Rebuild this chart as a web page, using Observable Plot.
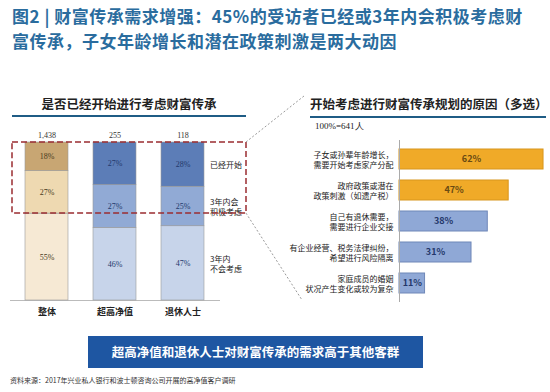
<!DOCTYPE html>
<html><head><meta charset="utf-8">
<script src="https://cdn.jsdelivr.net/npm/d3@7"></script>
<script src="https://cdn.jsdelivr.net/npm/@observablehq/plot@0.6"></script>
<style>
body{margin:0;background:#fff;}
#root{position:relative;width:550px;height:392px;overflow:hidden;font-family:"Noto Sans CJK SC",sans-serif;background:#fff;}
.abs{position:absolute;}
.title{left:12px;font-size:17px;line-height:24px;height:24px;font-weight:bold;color:#2a6c9e;white-space:nowrap;letter-spacing:0.5px;}
.ptitle{top:94px;font-size:12.5px;font-weight:bold;color:#222;text-align:center;white-space:nowrap;}
.uline{height:2px;background:#1f5c85;}
#n{left:315px;top:120px;font-size:9px;font-family:"Liberation Serif",serif;color:#222;}
#banner{left:88px;top:336px;width:335px;height:32px;background:#1e56a2;color:#fff;font-size:12.5px;font-weight:bold;text-align:center;line-height:32px;}
#source{left:10px;top:375px;font-size:7px;color:#333;white-space:nowrap;}
#overlay{left:0;top:0;pointer-events:none;}
</style></head><body>
<div id="root">
  <div class="abs title" style="top:4px;">图2 | 财富传承需求增强：45%的受访者已经或3年内会积极考虑财</div>
  <div class="abs title" style="top:29px;">富传承，子女年龄增长和潜在政策刺激是两大动因</div>
  <div class="abs ptitle" style="left:12px;width:234px;">是否已经开始进行考虑财富传承</div>
  <div class="abs uline" style="left:12px;top:115px;width:234px;"></div>
  <div class="abs ptitle" style="left:310px;width:236px;">开始考虑进行财富传承规划的原因（多选）</div>
  <div class="abs uline" style="left:310px;top:116px;width:236px;"></div>
  <div id="n" class="abs">100%=641人</div>
  <div id="leftChart" class="abs" style="left:0;top:125px;"></div>
  <div id="rightChart" class="abs" style="left:280px;top:135px;"></div>
  <div id="banner" class="abs">超高净值和退休人士对财富传承的需求高于其他客群</div>
  <div id="source" class="abs">资料来源：2017年兴业私人银行和波士顿咨询公司开展的高净值客户调研</div>
</div>
<script>
// ---- data ----
const categories = ["整体", "超高净值", "退休人士"];
const sampleSizes = ["1,438", "255", "118"];
const stages = ["3年内不会考虑", "3年内会积极考虑", "已经开始"]; // bottom -> top
const stageLabels = ["3年内\n不会考虑", "3年内会\n积极考虑", "已经开始"];
const notConsidering = [55, 46, 47];
const considering = [27, 27, 25];
const started = [18, 27, 28];

const reasons = [
  "子女或孙辈年龄增长，\n需要开始考虑家产分配",
  "政府政策或潜在\n政策刺激（如遗产税）",
  "自己有退休需要，\n需要进行企业交接",
  "有企业经营、税务法律纠纷，\n希望进行风险隔离",
  "家庭成员的婚姻\n状况产生变化或较为复杂"
];
const reasonShares = [62, 47, 38, 31, 11];
const topDrivers = 2;

// ---- styles ----
const tanShades = ["#f6e9d4", "#eed9b1", "#c8a673"];
const blueShades = ["#c7d4ea", "#91aad5", "#5c7db7"];
const orange = "#f0aa28", orangeEdge = "#d8961c";
const lightBlue = "#8fa8d6", lightBlueEdge = "#6f87b8";
const font = '"Noto Sans CJK SC", sans-serif';

// ---- left chart ----
const rows = [];
categories.forEach((c, i) => {
  [notConsidering, considering, started].forEach((arr, j) =>
    rows.push({cat: c, stage: stages[j], label: stageLabels[j], value: arr[i], level: j}));
});
const shade = d => (d.cat === categories[0] ? tanShades : blueShades)[d.level];

const left = Plot.plot({
  width: 252, height: 195,
  marginTop: 17, marginBottom: 20, marginLeft: 12, marginRight: 6,
  x: {domain: categories, paddingInner: 0.365, paddingOuter: 0.39, align: 0.243, label: null},
  y: {domain: [0, 100], axis: null},
  color: {type: "identity"},
  style: {fontFamily: font, background: "transparent", overflow: "visible"},
  marks: [
    Plot.ruleY([0], {stroke: "#bbb", insetLeft: -2, insetRight: 26}),
    Plot.barY(rows, {x: "cat", y: "value", fill: shade, stroke: "#9a9a9a", strokeWidth: 0.6}),
    Plot.text(rows, Plot.stackY({x: "cat", y: "value", text: d => d.value + "%",
      fill: d => d.cat === categories[0] ? "#4a3a20" : "#23386a",
      fontFamily: '"Liberation Serif", serif', fontSize: 8})),
    Plot.text(rows.filter(d => d.cat === categories[2]), Plot.stackY({x: "cat", y: "value", text: "label",
      dx: 27, textAnchor: "start", lineHeight: 1.25, fontSize: 8, fill: "#222"})),
    Plot.text(categories, {x: d => d, y: [100, 100, 100], text: (d, i) => sampleSizes[i], dy: -7,
      fontFamily: '"Liberation Serif", serif', fontSize: 8, fill: "#333"}),
    Plot.rect([{y1: 55, y2: 100}], {y1: "y1", y2: "y2", fill: "none", stroke: "#9b2d30",
      strokeWidth: 1.5, strokeDasharray: "6,3"}),
    Plot.axisX({tickSize: 0, tickPadding: 8, fontSize: 9, fontWeight: "bold", label: null, fill: "#222"})
  ]
});
document.getElementById("leftChart").appendChild(left);

// ---- right chart ----
const reasonRows = reasons.map((r, i) => ({reason: r, share: reasonShares[i], rank: i}));
const right = Plot.plot({
  width: 270, height: 171,
  marginTop: 0, marginBottom: 0, marginLeft: 119, marginRight: 0,
  x: {domain: [0, 65], axis: null},
  y: {domain: reasons, padding: 0.37, axis: null},
  color: {type: "identity"},
  style: {fontFamily: font, background: "transparent", overflow: "visible"},
  marks: [
    Plot.barX(reasonRows, {x: "share", y: "reason",
      fill: d => d.rank < topDrivers ? orange : lightBlue,
      stroke: d => d.rank < topDrivers ? orangeEdge : lightBlueEdge, strokeWidth: 1}),
    Plot.ruleX([0], {stroke: "#aaa", insetTop: 5, insetBottom: 4}),
    Plot.text(reasonRows, {x: d => d.share / 2, y: "reason", text: d => d.share + "%",
      fontSize: 9, fontWeight: "bold", fill: d => d.rank < topDrivers ? "#6a4a12" : "#24376a"}),
    Plot.text(reasonRows, {x: 0, y: "reason", text: "reason", dx: -6, textAnchor: "end",
      lineHeight: 1.35, fontSize: 8, fill: "#222"})
  ]
});
document.getElementById("rightChart").appendChild(right);

// ---- connector lines (decoration derived from left chart scales) ----
const leftPos = {left: 0, top: 125};
const rightPos = {left: 280, top: 135};
const xs = left.scale("x"), ys = left.scale("y");
const cornerX = leftPos.left + xs.range[1];
const svg = d3.select("#root").append("svg").attr("id", "overlay").attr("class", "abs")
  .attr("width", 550).attr("height", 392);
const links = [
  [cornerX, leftPos.top + ys.apply(100), rightPos.left + 24, 96],
  [cornerX, leftPos.top + ys.apply(55), rightPos.left + 22, rightPos.top + 165]
];
svg.selectAll("line").data(links).join("line")
  .attr("x1", d => d[0]).attr("y1", d => d[1]).attr("x2", d => d[2]).attr("y2", d => d[3])
  .attr("stroke", "#9a9a9a").attr("stroke-width", 1).attr("stroke-dasharray", "2,2");
</script>
</body></html>
